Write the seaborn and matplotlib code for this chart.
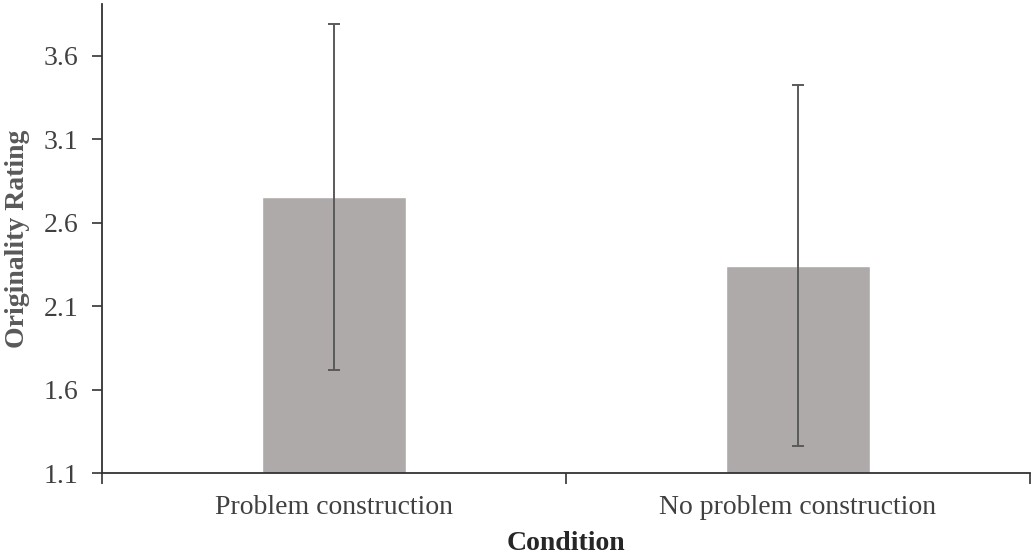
import pandas as pd
import matplotlib.pyplot as plt
import seaborn as sns

# dados
conditions = ['Problem construction', 'No problem construction']
means = [2.755, 2.343]
errors = [1.037, 1.082]

df = pd.DataFrame({'Condition': conditions, 'Rating': means})

sns.set_style('white')
plt.rcParams['font.family'] = ['Liberation Serif', 'DejaVu Serif']

fig = plt.figure(figsize=(10.34, 5.57), dpi=100)
ax = fig.add_axes([0.0986, 0.1508, 0.8974, 0.842])

sns.barplot(data=df, x='Condition', y='Rating', color='#aeaaa9', saturation=1,
            width=0.31, ax=ax)
ax.errorbar(range(len(conditions)), means, yerr=errors, fmt='none',
            ecolor='#5a5a5a', elinewidth=1.4, capsize=4.5, capthick=1.4)

ax.set_ylim(1.1, 3.91)
ax.set_xlim(-0.5, 1.5)
ax.set_yticks([1.1, 1.6, 2.1, 2.6, 3.1, 3.6])
ax.set_yticklabels(['1.1', '1.6', '2.1', '2.6', '3.1', '3.6'])
ax.set_xticks([-0.5, 0.5, 1.5], minor=True)
ax.tick_params(axis='x', which='major', length=0, pad=16, labelsize=20, labelcolor='#404040')
ax.tick_params(axis='x', which='minor', length=8, width=1.2, color='#333333',
               direction='out', bottom=True)
ax.tick_params(axis='y', length=7, width=1.2, color='#333333', direction='out',
               labelsize=20, labelcolor='#404040', pad=10, left=True)

for s in ['top', 'right']:
    ax.spines[s].set_visible(False)
for s in ['left', 'bottom']:
    ax.spines[s].set_color('#333333')
    ax.spines[s].set_linewidth(1.3)

ax.set_xlabel('Condition', fontsize=20, fontweight='bold', labelpad=8)
ax.set_ylabel('Originality Rating', fontsize=20, fontweight='bold', color='#595959', labelpad=10)

fig.savefig('out.png', dpi=100)
